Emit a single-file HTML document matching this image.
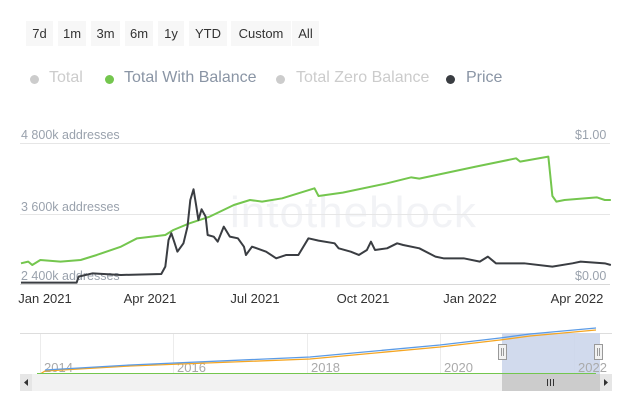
<!DOCTYPE html>
<html><head><meta charset="utf-8"><style>
body{margin:0;width:630px;height:420px;background:#fff;font-family:"Liberation Sans",sans-serif;overflow:hidden;position:relative}
.b{position:absolute;top:21px;height:25px;background:#f7f7f7;color:#333;font-size:13px;line-height:25px;text-align:center}
.lg{position:absolute;top:69px;font-size:16px;color:#8a95a5}
.dot{position:absolute;top:75px;width:9px;height:9px;border-radius:50%}
.t{position:absolute;font-size:12.5px;color:#9aa2ad}
</style></head><body>
<div class="b" style="left:26px;width:27px">7d</div>
<div class="b" style="left:58px;width:28px">1m</div>
<div class="b" style="left:91px;width:29px">3m</div>
<div class="b" style="left:125px;width:28px">6m</div>
<div class="b" style="left:158px;width:26px">1y</div>
<div class="b" style="left:189px;width:38px">YTD</div>
<div class="b" style="left:231px;width:60px">Custom</div>
<div class="b" style="left:292px;width:27px">All</div>
<div class="dot" style="left:30px;background:#ccc"></div><div class="lg" style="left:49px;color:#ccc">Total</div>
<div class="dot" style="left:105px;background:#74c64e"></div><div class="lg" style="left:124px">Total With Balance</div>
<div class="dot" style="left:276px;background:#ccc"></div><div class="lg" style="left:296px;color:#ccc">Total Zero Balance</div>
<div class="dot" style="left:446px;background:#3a3d42"></div><div class="lg" style="left:466px">Price</div>
<div style="position:absolute;left:230px;top:188px;font-size:44px;color:#f2f3f6;letter-spacing:1px">intotheblock</div>
<div class="t" style="left:21px;top:128px">4 800k addresses</div>
<div class="t" style="left:21px;top:200px">3 600k addresses</div>
<div class="t" style="left:21px;top:269px">2 400k addresses</div>
<div class="t" style="left:575px;top:128px">$1.00</div>
<div class="t" style="left:575px;top:269px">$0.00</div>
<svg style="position:absolute;left:0;top:0" width="630" height="420">
<g stroke="#e6e6e6" stroke-width="1"><line x1="20" x2="610" y1="143.5" y2="143.5"/><line x1="20" x2="610" y1="214.5" y2="214.5"/></g>
<line x1="20" x2="610" y1="284.5" y2="284.5" stroke="#d8d8d8"/>
<g transform="translate(0,120) scale(0.4032,0.3333)" fill="none" stroke-linejoin="round">
<polyline vector-effect="non-scaling-stroke" stroke="#74c64e" stroke-width="2" points="52,430 70,425 80,435 100,420 150,425 200,420 240,405 300,380 340,355 410,345 430,330 470,310 520,290 580,255 620,240 650,245 700,235 780,205 790,228 850,218 960,190 1020,172 1040,176 1180,140 1280,115 1290,125 1360,110 1370,228 1380,245 1400,240 1480,232 1500,240 1515,240"/>
<polyline vector-effect="non-scaling-stroke" stroke="#3a3d42" stroke-width="2" points="52,488 190,488 195,470 230,460 300,465 400,462 410,440 418,360 425,340 432,365 440,395 455,370 465,320 472,240 480,208 487,260 492,300 500,268 510,290 515,345 530,350 540,365 555,320 570,350 590,355 605,380 610,405 625,380 660,395 685,415 710,405 740,405 765,355 790,362 830,370 840,385 870,395 890,405 910,390 920,365 930,390 960,385 985,370 1000,375 1040,385 1080,410 1100,415 1150,415 1190,425 1210,410 1230,430 1300,430 1370,440 1420,430 1440,425 1500,430 1515,435"/>
</g>
<g font-size="13" fill="#333" text-anchor="middle" font-family="Liberation Sans,sans-serif">
<text x="45" y="303">Jan 2021</text><text x="150" y="303">Apr 2021</text><text x="255" y="303">Jul 2021</text><text x="363" y="303">Oct 2021</text><text x="470" y="303">Jan 2022</text><text x="577" y="303">Apr 2022</text>
</g>
<line x1="20" x2="612" y1="333.5" y2="333.5" stroke="#ddd"/>
<g stroke="#ececec"><line x1="40.5" x2="40.5" y1="334" y2="374"/><line x1="173.5" x2="173.5" y1="334" y2="374"/><line x1="307.5" x2="307.5" y1="334" y2="374"/><line x1="440.5" x2="440.5" y1="334" y2="374"/><line x1="574.5" x2="574.5" y1="334" y2="374"/></g>
<rect x="502" y="333" width="98" height="41" fill="#ccd6eb" opacity="0.9"/>
<g font-size="13" fill="#aaa" font-family="Liberation Sans,sans-serif"><text x="44" y="372">2014</text><text x="177" y="372">2016</text><text x="311" y="372">2018</text><text x="444" y="372">2020</text><text x="578" y="372">2022</text></g>
<polyline fill="none" stroke="#f5a623" stroke-width="1.3" points="37,376 45,371 130,366 310,359 440,347 500,340 530,336 596,330"/>
<polyline fill="none" stroke="#5b9be6" stroke-width="1.3" points="45,370 130,365 310,357 440,345 500,338 530,334 596,328"/>
<line x1="37" x2="596" y1="373.5" y2="373.5" stroke="#74c64e" stroke-width="1"/>
<rect x="20" y="374" width="592" height="17" fill="#f2f2f2"/>
<rect x="20" y="374" width="12" height="17" fill="#e6e6e6"/><path d="M28,379 L24,382.5 L28,386Z" fill="#333"/>
<rect x="502" y="374" width="98" height="17" fill="#ccc"/>
<g stroke="#333"><line x1="547.5" x2="547.5" y1="379" y2="386"/><line x1="550.5" x2="550.5" y1="379" y2="386"/><line x1="553.5" x2="553.5" y1="379" y2="386"/></g>
<rect x="600" y="374" width="12" height="17" fill="#e6e6e6"/><path d="M604,379 L608,382.5 L604,386Z" fill="#333"/>
<rect x="498.5" y="344.5" width="8" height="15" fill="#f2f2f2" stroke="#999"/><line x1="501.5" x2="501.5" y1="348" y2="356" stroke="#999"/><line x1="503.5" x2="503.5" y1="348" y2="356" stroke="#999"/>
<rect x="594.5" y="344.5" width="8" height="15" fill="#f2f2f2" stroke="#999"/><line x1="597.5" x2="597.5" y1="348" y2="356" stroke="#999"/><line x1="599.5" x2="599.5" y1="348" y2="356" stroke="#999"/>
</svg>
</body></html>
